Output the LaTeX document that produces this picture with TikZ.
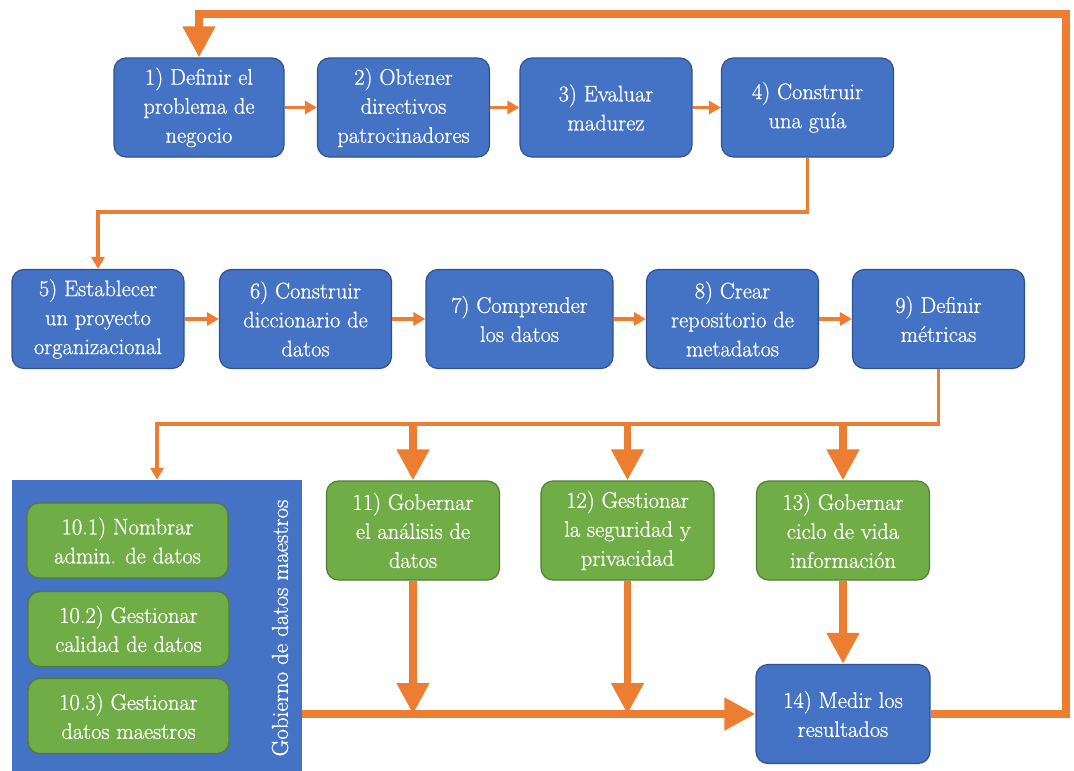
\documentclass[tikz,border=0pt]{standalone}
\usepackage{fontspec}
\setmainfont{Latin Modern Roman}
\newfontfamily\boxfont{Latin Modern Roman}[FakeBold=0.9]
\usetikzlibrary{arrows.meta}

\definecolor{boxblue}{HTML}{4472C4}
\definecolor{boxblueline}{HTML}{2F528F}
\definecolor{boxgreen}{HTML}{70AD47}
\definecolor{boxgreenline}{HTML}{507E32}
\definecolor{flow}{HTML}{ED7D31}

\tikzset{
  stepbox/.style={rounded corners=12pt, draw=boxblueline, line width=1.2pt,
    fill=boxblue, text=white, align=center, inner sep=0pt,
    font=\boxfont\fontsize{22.5}{29}\selectfont},
  bluebox/.style={stepbox, minimum width=172pt, minimum height=99pt},
  greenbox/.style={stepbox, fill=boxgreen, draw=boxgreenline,
    minimum width=173pt, minimum height=99pt},
  subbox/.style={stepbox, fill=boxgreen, draw=boxgreenline,
    minimum width=201pt, minimum height=75pt},
  panel/.style={fill=boxblue, draw=none, inner sep=0pt},
  flowthin/.style={draw=flow, line width=3.5pt, -{Triangle[length=12pt,width=13pt]}},
  flowthick/.style={draw=flow, line width=7.5pt, -{Triangle[length=31pt,width=31pt]}},
}

\begin{document}
\begin{tikzpicture}[x=1pt, y=-1pt]
\useasboundingbox[fill=white] (0,0) rectangle (1074,771);

% first row
\node[bluebox, minimum width=170pt] (n1) at (199,107.5) {1) Definir el\\problema de\\negocio};
\node[bluebox] (n2) at (403.5,107.5) {2) Obtener\\directivos\\patrocinadores};
\node[bluebox] (n3) at (606,107.5) {3) Evaluar\\madurez};
\node[bluebox] (n4) at (807.5,107.5) {4) Construir\\una guía};

% second row
\node[bluebox] (n5) at (98,319) {5) Establecer\\un proyecto\\organizacional};
\node[bluebox] (n6) at (305.5,319) {6) Construir\\diccionario de\\datos};
\node[bluebox, minimum width=187pt] (n7) at (519.5,319) {7) Comprender\\los datos};
\node[bluebox] (n8) at (732.5,319) {8) Crear\\repositorio de\\metadatos};
\node[bluebox] (n9) at (938.5,319) {9) Definir\\métricas};

% master data governance panel
\fill[boxblue] (12,480) rectangle (302,771);
\node[panel, minimum width=290pt, minimum height=291pt] (p10) at (157,625.5) {};
\node[subbox] (s1) at (127.5,540.5) {10.1) Nombrar\\admin. de datos};
\node[subbox] (s2) at (128.5,629) {10.2) Gestionar\\calidad de datos};
\node[subbox] (s3) at (128.5,716) {10.3) Gestionar\\datos maestros};
\node[rotate=90, text=white, font=\boxfont\fontsize{23}{28}\selectfont] (gob) at (280,628) {Gobierno de datos maestros};

% third row
\node[greenbox] (n11) at (413,530.5) {11) Gobernar\\el análisis de\\datos};
\node[greenbox] (n12) at (627.5,530.5) {12) Gestionar\\la seguridad y\\privacidad};
\node[greenbox] (n13) at (843,530.5) {13) Gobernar\\ciclo de vida\\información};
\node[bluebox, minimum width=174pt] (n14) at (843,714) {14) Medir los\\resultados};

% bends of the routed connectors
\coordinate (k45) at (807.5,212);
\coordinate (k9) at (938.5,424);
\coordinate (kback) at (1066,14);

% row arrows
\draw[flowthin] (n1) -- (n2);
\draw[flowthin] (n2) -- (n3);
\draw[flowthin] (n3) -- (n4);
\draw[flowthin] (n4.south) -- (k45) -| (n5.north);
\draw[flowthin] (n5) -- (n6);
\draw[flowthin] (n6) -- (n7);
\draw[flowthin] (n7) -- (n8);
\draw[flowthin] (n8) -- (n9);

% branching after the metrics
\draw[flowthin] (n9.south) -- (k9) -| (p10.north);
\draw[flowthick] (n11.north |- k9) -- (n11.north);
\draw[flowthick] (n12.north |- k9) -- (n12.north);
\draw[flowthick] (n13.north |- k9) -- (n13.north);

% converging on the results
\draw[flowthick] (p10.east |- n14.west) -- (n14.west);
\draw[flowthick] (n11.south) -- (n11.south |- n14.west);
\draw[flowthick] (n12.south) -- (n12.south |- n14.west);
\draw[flowthick] (n13.south) -- (n14.north);

% feedback loop to the start
\draw[flowthick] (n14.east) -| (kback) -| (n1.north);
\end{tikzpicture}
\end{document}
